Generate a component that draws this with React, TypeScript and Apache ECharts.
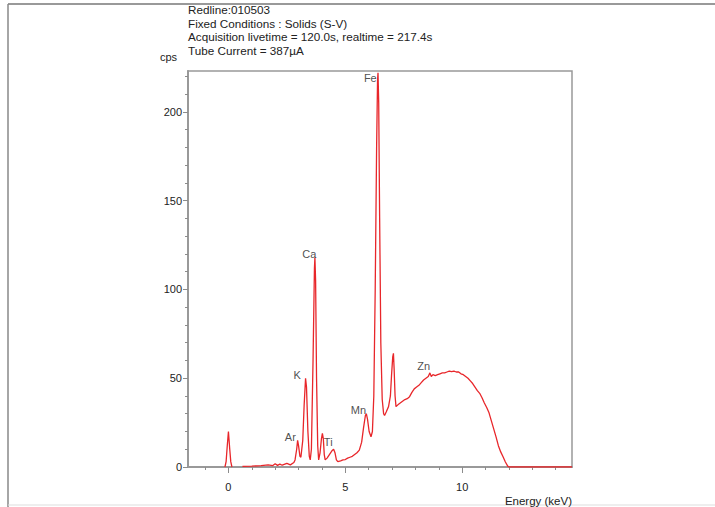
import React, { useEffect, useRef } from 'react';
import * as echarts from 'echarts';

// spectrum: [energy keV, cps]; null breaks the line
const spectrum: [number, number | null][] = [
  [-0.15, 0], [-0.1, 3], [-0.05, 12], [0, 20], [0.05, 11], [0.1, 3], [0.15, 0], [0.2, null],
  [0.6, 0.3], [1.0, 0.5], [1.4, 0.8], [1.7, 1.2], [1.9, 0.8], [2.0, 1.8], [2.1, 0.9],
  [2.2, 1.6], [2.3, 1.0], [2.5, 2.0], [2.65, 1.2], [2.8, 2.5],
  [2.85, 4], [2.92, 10], [2.96, 15], [3.0, 12], [3.06, 6], [3.1, 5.5], [3.18, 15],
  [3.24, 35], [3.3, 50], [3.34, 45], [3.4, 20], [3.46, 6], [3.5, 4], [3.55, 10],
  [3.62, 60], [3.68, 112], [3.7, 118], [3.73, 105], [3.77, 50], [3.82, 12], [3.86, 4],
  [3.92, 8], [3.98, 16], [4.02, 19], [4.06, 16], [4.1, 7], [4.14, 4], [4.22, 5],
  [4.32, 7], [4.42, 9], [4.5, 10], [4.56, 8], [4.62, 4], [4.68, 3], [4.8, 3.5],
  [4.9, 4], [5.0, 4.2], [5.1, 5], [5.2, 5.5], [5.3, 6], [5.4, 7], [5.5, 8], [5.6, 9.5],
  [5.7, 14], [5.78, 22], [5.86, 29], [5.9, 30], [5.95, 27], [6.02, 20], [6.1, 17],
  [6.16, 20], [6.22, 40], [6.28, 100], [6.34, 180], [6.38, 218], [6.4, 222], [6.43, 205],
  [6.47, 140], [6.52, 70], [6.58, 38], [6.64, 30], [6.68, 29], [6.75, 31], [6.85, 34],
  [6.93, 40], [6.98, 52], [7.03, 62], [7.06, 64], [7.09, 55], [7.13, 40], [7.17, 34],
  [7.25, 35], [7.35, 36], [7.45, 37], [7.55, 38], [7.65, 38.5], [7.75, 39.6], [7.85, 42],
  [7.95, 44], [8.05, 45], [8.15, 46], [8.25, 47.5], [8.35, 49], [8.45, 50], [8.55, 51],
  [8.62, 53], [8.68, 51], [8.75, 52], [8.85, 51.5], [8.95, 52], [9.05, 52.5], [9.15, 53],
  [9.25, 53], [9.35, 53.5], [9.45, 54], [9.55, 53.7], [9.65, 54], [9.75, 53.5],
  [9.85, 53.5], [9.95, 52.5], [10.05, 52], [10.15, 51], [10.25, 50], [10.35, 48.5],
  [10.45, 47], [10.55, 45], [10.65, 43], [10.75, 41.5], [10.85, 39], [10.95, 36],
  [11.05, 33.5], [11.15, 30.5], [11.25, 26], [11.35, 21.5], [11.45, 17], [11.55, 12],
  [11.65, 8.5], [11.75, 5.8], [11.85, 2.8], [11.95, 0.5], [12.0, 0], [14.7, 0],
];

// element labels: name, label centre (keV, cps)
const peakNames = ['Ar', 'K', 'Ca', 'Ti', 'Mn', 'Fe', 'Zn'];
const peakLabelKeV = [2.65, 2.94, 3.46, 4.27, 5.56, 6.07, 8.35];
const peakLabelCps = [17, 52, 120, 14, 32, 219, 57];

const xMajor = [0, 5, 10];
const xMinor = [-1, 0, 1, 2, 3, 4, 5, 6, 7, 8, 9, 10, 11, 12, 13, 14];
const yMajor = [0, 50, 100, 150, 200];
const yMinor = [0, 10, 20, 30, 40, 50, 60, 70, 80, 90, 100, 110, 120, 130, 140, 150, 160, 170, 180, 190, 200, 210, 220];

const headerLines = [
  'Redline:010503',
  'Fixed Conditions : Solids (S-V)',
  'Acquisition livetime = 120.0s, realtime = 217.4s',
  'Tube Current = 387µA',
];

const FONT = 'Liberation Sans';
const INK = '#222';
const TICK = '#8c8c8c';

const App: React.FC = () => {
  const chartRef = useRef<HTMLDivElement>(null);

  useEffect(() => {
    const chart = echarts.init(chartRef.current, null, { renderer: 'svg' });
    const xRange = { min: -1.73, max: 14.7 };
    const yRange = { min: 0, max: 223 };
    const axisLine = { show: true, onZero: false, lineStyle: { color: '#999', width: 2 } };
    const noLine = { show: false, onZero: false };

    const option = {
      animation: false,
      textStyle: { fontFamily: FONT },
      grid: {
        left: 188, right: 143, top: 71, bottom: 40,
        show: true, borderColor: '#999', borderWidth: 1.5,
      },
      xAxis: [
        {
          type: 'value', ...xRange, position: 'bottom',
          axisLine,
          axisTick: { show: true, inside: false, customValues: xMinor, length: 3, lineStyle: { color: TICK } },
          axisLabel: { show: false },
          splitLine: { show: false },
        },
        {
          type: 'value', ...xRange, position: 'bottom',
          axisLine: noLine,
          axisTick: { show: true, inside: false, customValues: xMajor, length: 6, lineStyle: { color: TICK } },
          axisLabel: { customValues: xMajor, color: INK, fontSize: 11, fontFamily: FONT, margin: 14 },
          splitLine: { show: false },
        },
      ],
      yAxis: [
        {
          type: 'value', ...yRange, position: 'left',
          axisLine,
          axisTick: { show: true, inside: false, customValues: yMinor, length: 3, lineStyle: { color: TICK } },
          axisLabel: { show: false },
          splitLine: { show: false },
        },
        {
          type: 'value', ...yRange, position: 'left',
          axisLine: noLine,
          axisTick: { show: true, inside: false, customValues: yMajor, length: 5, lineStyle: { color: TICK } },
          axisLabel: { customValues: yMajor, color: INK, fontSize: 11, fontFamily: FONT, margin: 6 },
          splitLine: { show: false },
        },
      ],
      series: [
        {
          type: 'line',
          data: spectrum,
          showSymbol: false,
          connectNulls: false,
          lineStyle: { color: '#e8262a', width: 1.3 },
          z: 3,
        },
        {
          type: 'scatter',
          symbolSize: 0,
          data: peakNames.map((n, i) => ({ name: n, value: [peakLabelKeV[i], peakLabelCps[i]] })),
          label: {
            show: true, position: 'inside', formatter: '{b}',
            color: INK, fontSize: 11, fontFamily: FONT,
          },
          z: 4,
        },
      ],
      graphic: [
        { type: 'line', shape: { x1: 8, y1: 4, x2: 715, y2: 4 }, style: { stroke: '#777', lineWidth: 1.5 } },
        { type: 'line', shape: { x1: 8, y1: 4, x2: 8, y2: 507 }, style: { stroke: '#888', lineWidth: 1.5 } },
        { type: 'line', shape: { x1: 8, y1: 505, x2: 715, y2: 505 }, style: { stroke: '#ddd', lineWidth: 1 } },
        {
          type: 'text', x: 188, y: 3,
          style: { text: headerLines.join('\n'), fill: INK, font: `11.7px "${FONT}"`, lineHeight: 13.5 },
        },
        { type: 'text', x: 160, y: 51, style: { text: 'cps', fill: INK, font: `11px "${FONT}"` } },
        {
          type: 'text', x: 572, y: 495,
          style: { text: 'Energy (keV)', fill: INK, font: `11.5px "${FONT}"`, textAlign: 'right' },
        },
      ],
    };

    chart.setOption(option);

    return () => {
      chart.dispose();
    };
  }, []);

  return (
    <div
      ref={chartRef}
      style={{ position: 'fixed', left: 0, top: 0, width: '715px', height: '507px', background: '#fff' }}
    />
  );
};

export default App;
